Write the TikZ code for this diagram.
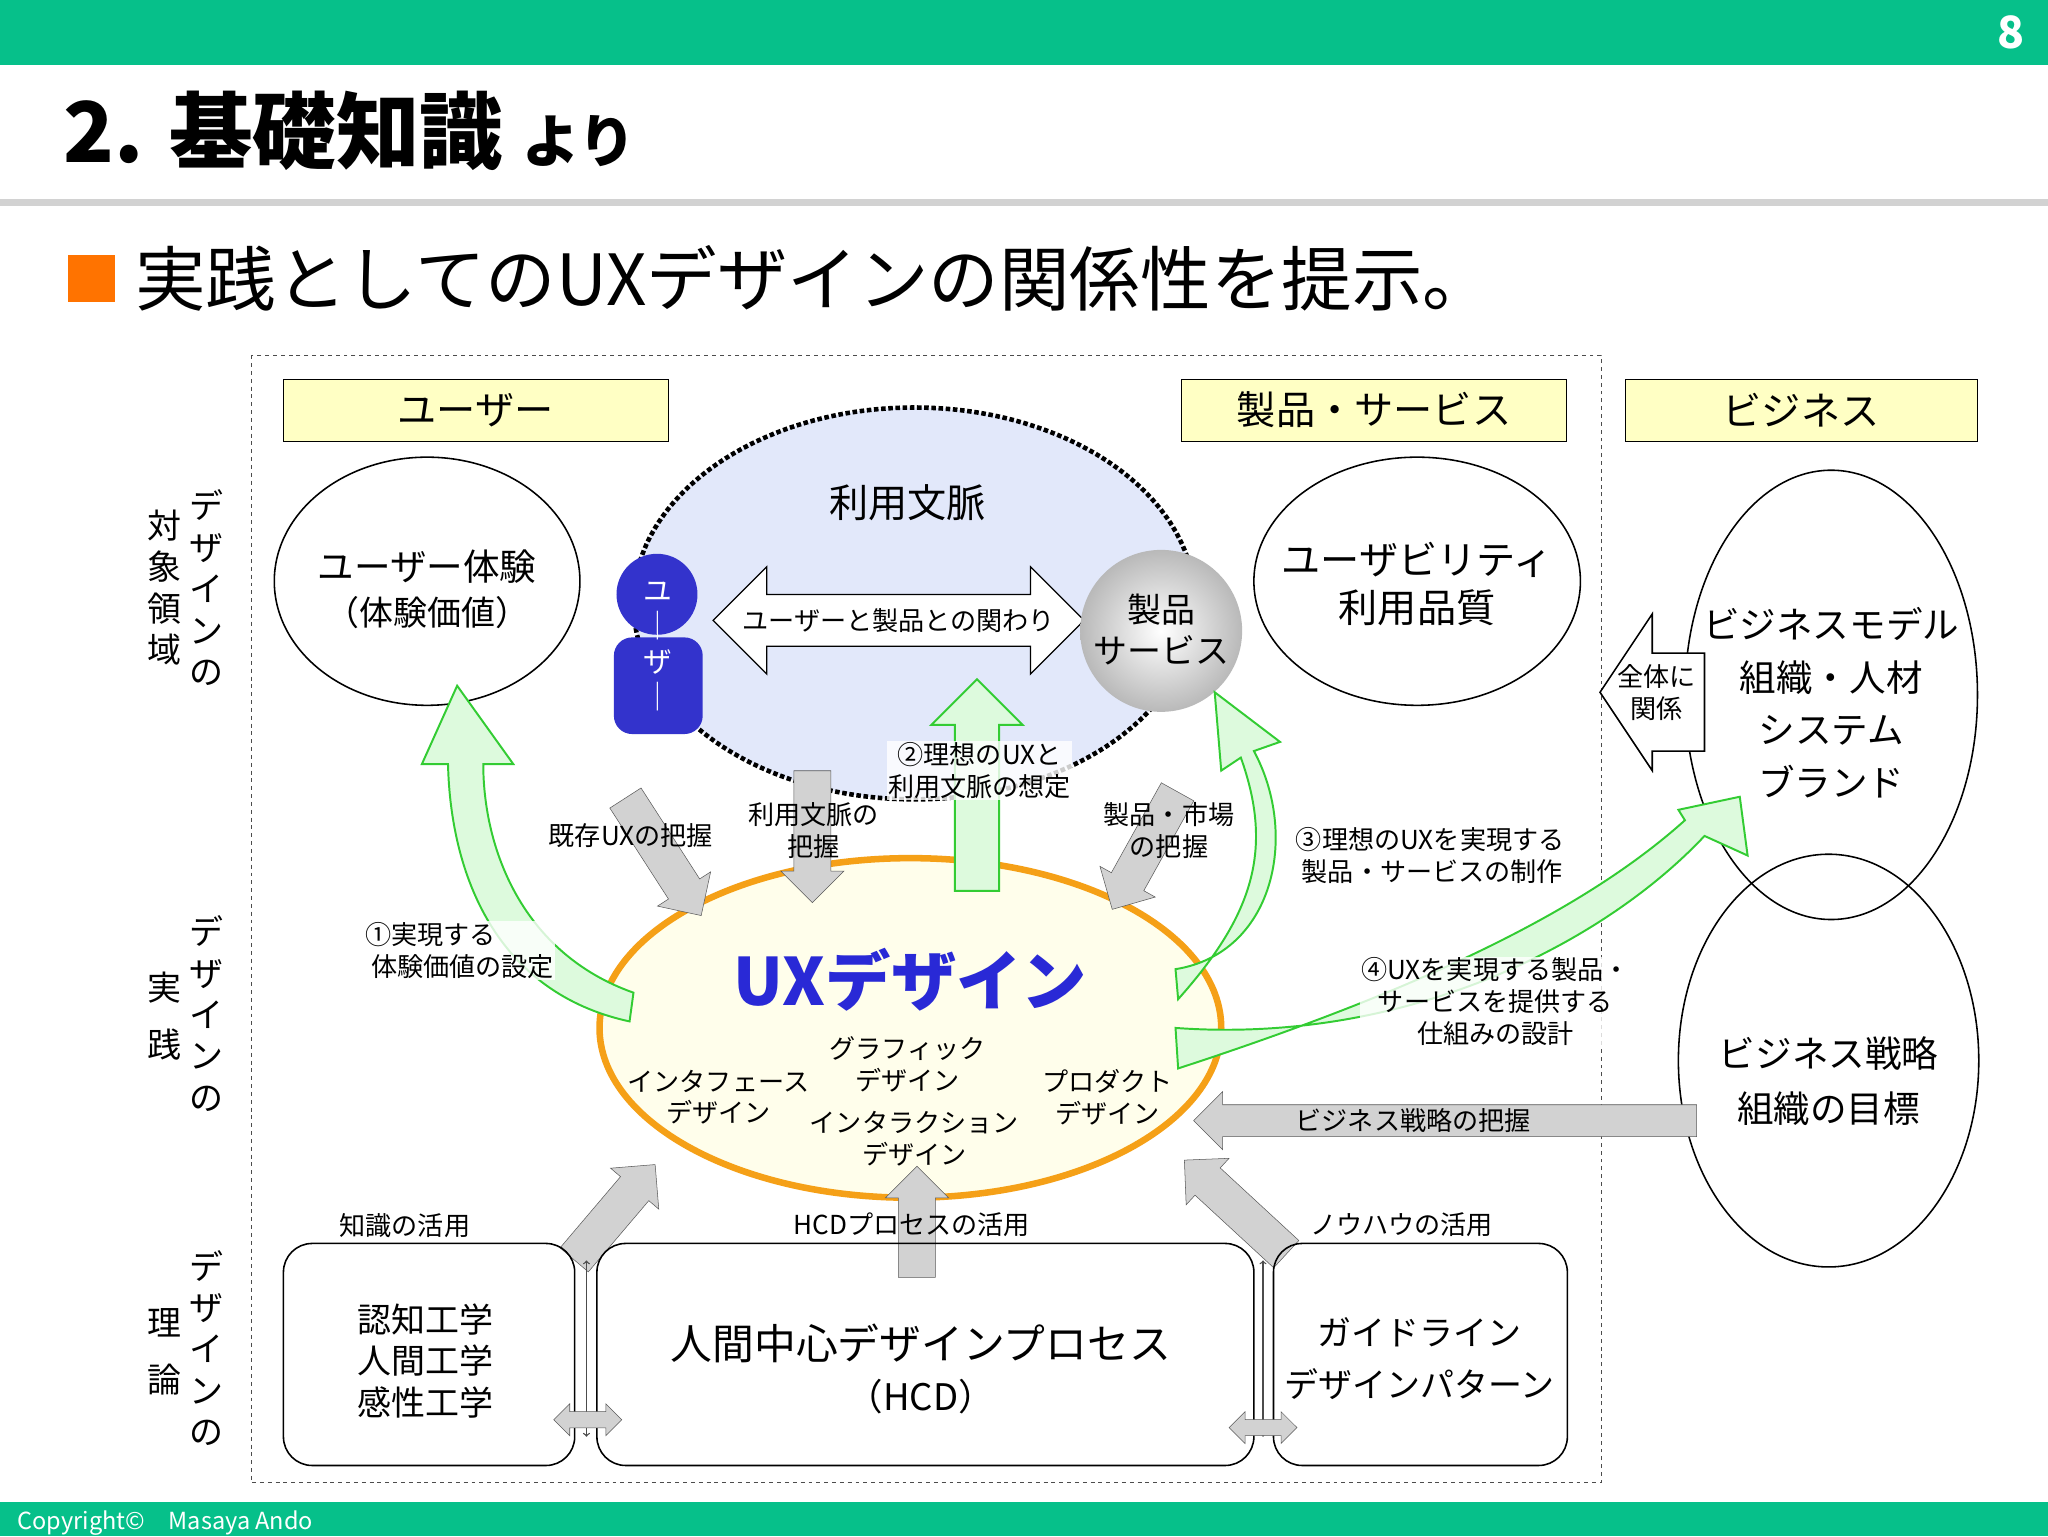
\documentclass[tikz,border=0pt]{standalone}
\usepackage{fontspec}
\setmainfont{Noto Sans CJK JP}
\usetikzlibrary{shapes.arrows,shapes.geometric,calc,shadings}
\definecolor{bar}{HTML}{06C08A}
\definecolor{ylab}{HTML}{FFFFC4}
\definecolor{ctx}{HTML}{E2E8FA}
\definecolor{ublue}{HTML}{3333CC}
\definecolor{gfill}{HTML}{DDFADD}
\definecolor{gline}{HTML}{33CC33}
\definecolor{orng}{HTML}{F5A017}
\newcommand\fs[1]{\fontsize{#1pt}{1.22\dimexpr#1pt\relax}\selectfont}
\newcommand\barrow[4]{\path let \p1=(#2), \p2=(#3), \n1={atan2(\y2-\y1,\x2-\x1)}, \n2={veclen(\x2-\x1,\y2-\y1)} in node[single arrow, draw=gray!70!black, fill=gray!35, minimum height=\n2, inner xsep=0pt, inner ysep=#4, single arrow head extend=10pt, rotate=\n1, #1] at ($(#2)!0.5!(#3)$) {};}
\tikzset{
 ylabel/.style={draw, fill=ylab, minimum height=47pt, font=\fs{30}},
 ell/.style={draw, ellipse, line width=1.2pt, fill=white},
 lbl/.style={font=\fs{20}, align=center, inner sep=1pt},
 vt/.style={font=\fs{26}, align=center, inner sep=0pt},
 gar/.style={draw=gline, line width=1.5pt, fill=gfill},
 box/.style={draw, rounded corners=22pt, line width=1.2pt},
}
\begin{document}
\begin{tikzpicture}[x=1pt,y=-1pt]
\useasboundingbox (0,0) rectangle (1568,1176);
\fill[white] (0,0) rectangle (1568,1176);
\fill[bar] (0,0) rectangle (1568,50);
\node[white,font=\bfseries\fs{34}] at (1540,25) {8};
\node[anchor=west,font=\bfseries\fs{64}] (t) at (45,100) {2. 基礎知識 \fs{44}より};
\fill[gray!35] (0,152) rectangle (1568,158);
\fill[orange!90!red] (52,195) rectangle (88,231);
\node[anchor=west,font=\fs{54}] at (100,213) {実践としてのUXデザインの関係性を提示。};
\fill[bar] (0,1150) rectangle (1568,1176);
\node[anchor=west,white,font=\fs{18}] at (10,1166) {Copyright©　Masaya Ando};
\draw[dashed, gray!60!black] (192,272) rectangle (1226,1135);
\node[ylabel, minimum width=295pt] at (364,314) {ユーザー};
\node[ylabel, minimum width=295pt] at (1052,314) {製品・サービス};
\node[ylabel, minimum width=270pt] at (1379,314) {ビジネス};
% vertical labels
\node[vt] at (158,450) {デ\\ザ\\イ\\ン\\の};
\node[vt] at (126,450) {対\\象\\領\\域};
\node[vt] at (158,776) {デ\\ザ\\イ\\ン\\の};
\node[vt] at (126,778) {実\\[12pt]践};
\node[vt] at (158,1032) {デ\\ザ\\イ\\ン\\の};
\node[vt] at (126,1035) {理\\[12pt]論};
% context
\draw[dotted, line width=3.5pt, fill=ctx] (700,462) ellipse (215 and 150);
\node[font=\fs{30}] at (695,385) {利用文脈};
% user icon
\fill[ublue] (503,455) circle (31);
\fill[ublue, rounded corners=14pt] (470,488) rectangle (538,562);
\node[white, font=\fs{22}, align=center] at (504,495) {ユ\\｜\\ザ\\｜};
\node[double arrow, draw, fill=white, minimum width=82pt, minimum height=268pt, double arrow head extend=20pt, inner ysep=9pt, inner xsep=2pt, font=\fs{20}, line width=1pt] (rel) at (688,475) {ユーザーと製品との関わり};
\shade[inner color=white, outer color=gray!55] (889,483) circle (62);
\node[lbl, font=\fs{26}] at (889,482) {製品\\サービス};
% speech ellipses
\draw[ell] (327,445) ellipse (117 and 95);
\node[lbl, font=\fs{28}] at (327,451) {ユーザー体験\\\fs{26}（体験価値）};
\draw[ell] (1085,445) ellipse (125 and 95);
\node[lbl, font=\fs{30}] at (1085,447) {ユーザビリティ\\利用品質};
\draw[ell] (1402,532) ellipse (112 and 172);
\node[lbl, font=\fs{28}, align=center] at (1402,538) {ビジネスモデル\\[6pt]組織・人材\\[6pt]システム\\[6pt]ブランド};
\draw[ell, fill=none] (1400,812) ellipse (115 and 158);
\node[lbl, font=\fs{28}] at (1400,828) {ビジネス戦略\\[8pt]組織の目標};
% 全体に関係
\draw[line width=1.2pt, fill=white] (1305,500)--(1265,500)--(1265,470)--(1225,530)--(1265,590)--(1265,575)--(1305,575)--cycle;
\node[lbl, font=\fs{20}] at (1268,530) {全体に\\関係};
% UX ellipse
\draw[line width=5pt, draw=orng, fill=yellow!8] (697,787) ellipse (238 and 130);
\node[font=\bfseries\fs{50}, text=ublue!80!blue] at (697,750) {UXデザイン};
\node[lbl] at (550,840) {インタフェース\\デザイン};
\node[lbl] at (695,815) {グラフィック\\デザイン};
\node[lbl] at (700,872) {インタラクション\\デザイン};
\node[lbl] at (848,840) {プロダクト\\デザイン};
% green arrows
\draw[gar] (485,760) .. controls (400,730) and (370,650) .. (370,585) -- (393,585) -- (350,525) -- (323,585) -- (343,585) .. controls (345,670) and (380,760) .. (482,782) -- cycle;
\draw[gar] (731,682) -- (731,555) -- (713,555) -- (748,520) -- (783,555) -- (765,555) -- (765,682) -- cycle;
\draw[gar] (900,742) .. controls (975,730) and (995,640) .. (960,575) -- (980,568) -- (930,530) -- (935,590) -- (950,580) .. controls (975,650) and (960,700) .. (902,765) -- cycle;
\draw[gar] (900,787) .. controls (1080,800) and (1230,720) .. (1305,640) -- (1338,655) -- (1332,610) -- (1285,620) -- (1290,628) .. controls (1210,700) and (1080,760) .. (902,818) -- cycle;
% grey arrows
\barrow{}{475,605}{533,695}{14pt}
\barrow{}{622,583}{622,684}{14pt}
\barrow{}{905,600}{855,690}{14pt}
\barrow{}{1305,858}{920,858}{12pt}
\barrow{}{435,970}{497,897}{14pt}
\barrow{}{702,985}{702,900}{14pt}
\barrow{}{990,965}{912,893}{14pt}
% labels
\node[lbl, fill=white, fill opacity=.8, text opacity=1] at (750,590) {②理想のUXと\\ 利用文脈の想定};
\node[lbl] at (483,640) {既存UXの把握};
\node[lbl] at (623,636) {利用文脈の\\把握};
\node[lbl] at (895,636) {製品・市場\\の把握};
\node[lbl, align=left] at (1095,655) {③理想のUXを実現する\\ \ 製品・サービスの制作};
\node[lbl, align=left, fill=white, fill opacity=.8, text opacity=1] at (352,728) {①実現する\\ \ 体験価値の設定};
\node[lbl, fill=white, fill opacity=.8, text opacity=1] at (1145,767) {④UXを実現する製品・\\サービスを提供する\\仕組みの設計};
\node[lbl] at (1082,858) {ビジネス戦略の把握};
% bottom boxes
\draw[box] (217,952) rectangle (440,1122);
\node[lbl, font=\fs{26}] at (326,1042) {認知工学\\人間工学\\感性工学};
\draw[box] (457,952) rectangle (960,1122);
\node[lbl, font=\fs{32}] at (705,1048) {人間中心デザインプロセス\\\fs{28}（HCD）};
\draw[box] (975,952) rectangle (1200,1122);
\node[lbl, font=\fs{26}] at (1087,1040) {ガイドライン\\[8pt]デザインパターン};
\node[lbl] at (310,938) {知識の活用};
\node[lbl] at (698,938) {HCDプロセスの活用};
\node[lbl] at (1073,938) {ノウハウの活用};
\draw[<->, gray!60!black, line width=1pt] (449,965) -- (449,1100);
\draw[<->, gray!60!black, line width=1pt] (967,965) -- (967,1100);
\node[double arrow, draw=gray!70!black, fill=gray!35, minimum height=52pt, inner ysep=6pt, inner xsep=0pt, double arrow head extend=6pt] at (450,1087) {};
\node[double arrow, draw=gray!70!black, fill=gray!35, minimum height=52pt, inner ysep=6pt, inner xsep=0pt, double arrow head extend=6pt] at (967,1093) {};
\end{tikzpicture}
\end{document}
